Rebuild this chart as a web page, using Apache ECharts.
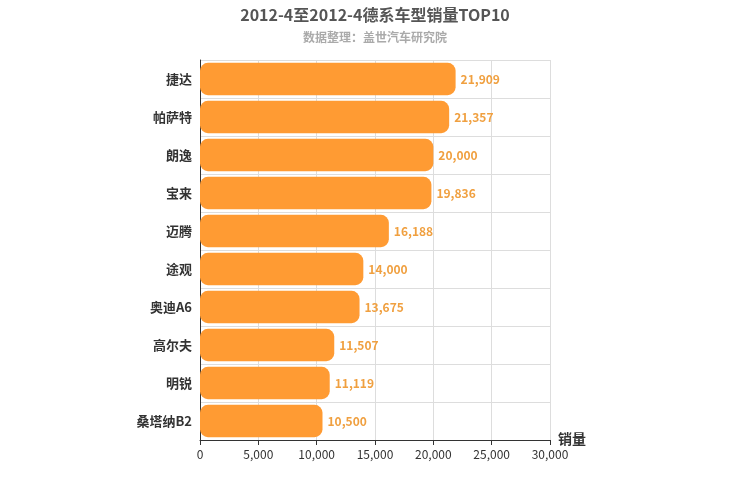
<!DOCTYPE html>
<html>
<head>
<meta charset="utf-8">
<script src="https://cdn.jsdelivr.net/npm/echarts@6/dist/echarts.min.js"></script>
<style>html,body{margin:0;padding:0;background:#fff}#chart{width:750px;height:500px}</style>
</head>
<body>
<div id="chart"></div>
<script>
// 车型与销量
const models = ["捷达", "帕萨特", "朗逸", "宝来", "迈腾", "途观", "奥迪A6", "高尔夫", "明锐", "桑塔纳B2"];
const sales = [21909, 21357, 20000, 19836, 16188, 14000, 13675, 11507, 11119, 10500];
const xTicks = [0, 5000, 10000, 15000, 20000, 25000, 30000];

const chart = echarts.init(document.getElementById("chart"));
chart.setOption({
  textStyle: { fontFamily: "Noto Sans CJK SC" },
  title: {
    text: "2012-4至2012-4德系车型销量TOP10",
    subtext: "数据整理：盖世汽车研究院",
    left: "center",
    top: 2,
    itemGap: 8,
    textStyle: { fontSize: 16, fontWeight: "bold", color: "#555" },
    subtextStyle: { fontSize: 12, fontWeight: "bold", color: "#aaa" }
  },
  grid: { left: 200, right: 200, top: 60, bottom: 60 },
  xAxis: {
    type: "value",
    min: xTicks[0],
    max: xTicks[xTicks.length - 1],
    interval: 5000,
    name: "销量",
    nameGap: 8,
    nameTextStyle: { fontSize: 14, fontWeight: "bold", color: "#333", verticalAlign: "top", padding: [-8, 0, 0, 0] },
    axisLine: { show: true, lineStyle: { color: "#333" } },
    axisTick: { show: true },
    axisLabel: { color: "#333", formatter: v => v.toLocaleString("en-US") },
    splitLine: { lineStyle: { color: "#ddd" } }
  },
  yAxis: {
    type: "category",
    data: models,
    inverse: true,
    axisLine: { lineStyle: { color: "#333" } },
    axisTick: { show: false },
    axisLabel: { color: "#333", fontSize: 13, fontWeight: "bold", margin: 8 },
    splitLine: { show: true, lineStyle: { color: "#ddd" } }
  },
  series: [{
    type: "bar",
    data: sales,
    barWidth: "85%",
    itemStyle: { color: "#ff9b33", borderRadius: 8 },
    label: {
      show: true,
      position: "right",
      color: "#f0a040",
      fontSize: 12,
      fontWeight: "bold",
      formatter: p => p.value.toLocaleString("en-US")
    }
  }]
});
</script>
</body>
</html>
